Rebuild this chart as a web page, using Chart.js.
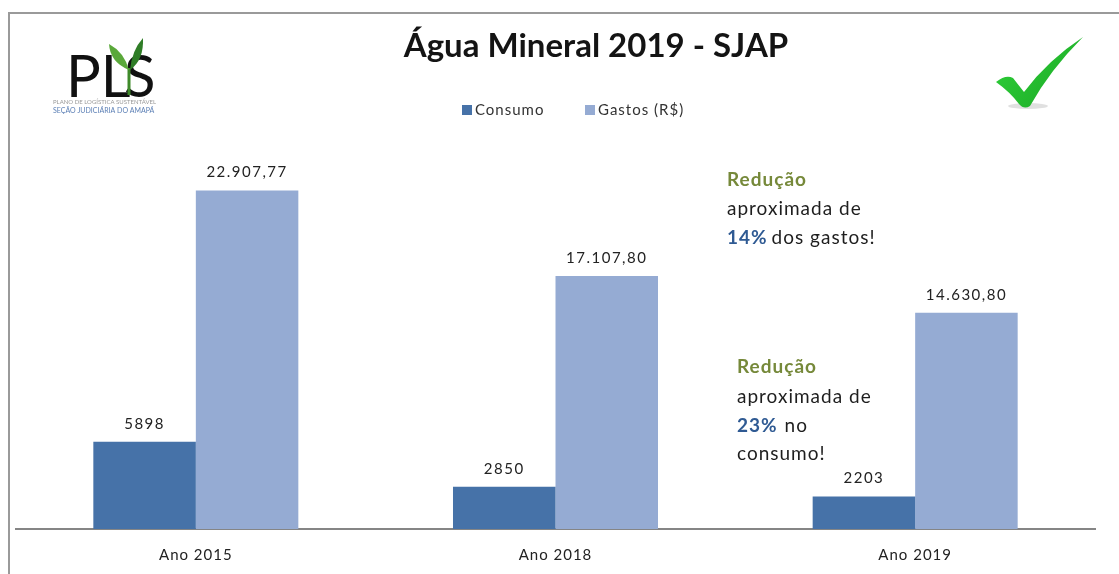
<!DOCTYPE html>
<html>
<head>
<meta charset="utf-8">
<script src="https://cdn.jsdelivr.net/npm/chart.js@4/dist/chart.umd.min.js"></script>
<style>
html,body{margin:0;padding:0;background:#fff;}
canvas{display:block;}
</style>
</head>
<body>
<canvas id="c" width="1119" height="574"></canvas>
<script>
const categories = ['Ano 2015', 'Ano 2018', 'Ano 2019'];
const consumo = [5898, 2850, 2203];
const gastos = [22907.77, 17107.80, 14630.80];
const seriesNames = ['Consumo', 'Gastos (R$)'];
const titleText = 'Água Mineral 2019 - SJAP';
const note1 = ['Redução', 'aproximada de', '14%', 'dos gastos!'];
const note2 = ['Redução', 'aproximada de', '23%', 'no', 'consumo!'];
const seriesColors = ['#4672a8', '#95abd3'];

const FONT = 'Lato, "Open Sans", sans-serif';

function fmtBR(v) {
  const parts = v.toFixed(2).split('.');
  const int = parts[0].replace(/\B(?=(\d{3})+(?!\d))/g, '.');
  return int + ',' + parts[1];
}

const decorPlugin = {
  id: 'decor',
  beforeDraw(chart) {
    const ctx = chart.ctx;
    ctx.save();
    ctx.fillStyle = '#fff';
    ctx.fillRect(0, 0, chart.width, chart.height);
    ctx.strokeStyle = '#9a9a9a';
    ctx.lineWidth = 2;
    ctx.beginPath();
    ctx.moveTo(9, 574);
    ctx.lineTo(9, 13);
    ctx.lineTo(1119, 13);
    ctx.stroke();
    ctx.restore();
    ctx.letterSpacing = '1px';
  },
  afterDraw(chart) {
    const ctx = chart.ctx;
    ctx.save();
    ctx.letterSpacing = '0px';
    // Title
    ctx.fillStyle = '#141414';
    ctx.font = 'bold 33px ' + FONT;
    ctx.textAlign = 'center';
    ctx.textBaseline = 'middle';
    ctx.fillText(titleText, 596, 46);

    // Legend
    ctx.letterSpacing = '1px';
    ctx.font = '15px ' + FONT;
    ctx.textAlign = 'left';
    const legX = [462, 585];
    seriesNames.forEach((n, i) => {
      ctx.fillStyle = seriesColors[i];
      ctx.fillRect(legX[i], 105, 10, 10);
      ctx.fillStyle = '#333';
      ctx.fillText(n, legX[i] + 13, 110);
    });
    ctx.letterSpacing = '0px';

    // Logo PLS
    ctx.fillStyle = '#111';
    ctx.font = '58px ' + FONT;
    ctx.textBaseline = 'alphabetic';
    ctx.textAlign = 'left';
    ctx.fillText('PL', 66, 97);
    ctx.fillText('S', 124, 97);
    ctx.strokeStyle = '#3f8a2a';
    ctx.lineWidth = 3;
    ctx.beginPath();
    ctx.moveTo(129, 68); ctx.lineTo(129, 95); ctx.stroke();
    ctx.fillStyle = '#5aa83a';
    ctx.beginPath();
    ctx.moveTo(129, 70);
    ctx.quadraticCurveTo(110, 62, 109, 44);
    ctx.quadraticCurveTo(124, 52, 129, 70);
    ctx.fill();
    ctx.fillStyle = '#2f7d27';
    ctx.beginPath();
    ctx.moveTo(130, 70);
    ctx.quadraticCurveTo(132, 50, 143, 38);
    ctx.quadraticCurveTo(144, 60, 130, 70);
    ctx.fill();
    ctx.font = '6px ' + FONT;
    ctx.fillStyle = '#999';
    ctx.fillText('PLANO DE LOGÍSTICA SUSTENTÁVEL', 53, 104);
    ctx.fillStyle = '#5b7fb5';
    ctx.font = '7px ' + FONT;
    ctx.fillText('SEÇÃO JUDICIÁRIA DO AMAPÁ', 53, 113);

    // checkmark
    const g = ctx.createLinearGradient(995, 40, 1085, 110);
    g.addColorStop(0, '#2fd13a');
    g.addColorStop(1, '#1aa524');
    ctx.fillStyle = 'rgba(0,0,0,0.12)';
    ctx.beginPath();
    ctx.ellipse(1028, 106, 20, 3, 0, 0, Math.PI * 2);
    ctx.fill();
    ctx.fillStyle = g;
    ctx.beginPath();
    ctx.moveTo(996, 82);
    ctx.quadraticCurveTo(1006, 74, 1013, 78);
    ctx.lineTo(1024, 92);
    ctx.quadraticCurveTo(1048, 60, 1083, 37);
    ctx.quadraticCurveTo(1050, 70, 1030, 106);
    ctx.quadraticCurveTo(1024, 110, 1019, 104);
    ctx.quadraticCurveTo(1010, 92, 996, 82);
    ctx.fill();

    // Notes
    ctx.letterSpacing = '1px';
    ctx.textAlign = 'left';
    ctx.textBaseline = 'middle';
    const green = '#76893a', blue = '#2f5a93', dark = '#1e1e1e';
    ctx.font = 'bold 19px ' + FONT;
    ctx.fillStyle = green;
    ctx.fillText(note1[0], 727, 180);
    ctx.font = '19px ' + FONT;
    ctx.fillStyle = dark;
    ctx.fillText(note1[1], 727, 209);
    ctx.font = 'bold 19px ' + FONT;
    ctx.fillStyle = blue;
    ctx.fillText(note1[2], 727, 238);
    let w = ctx.measureText(note1[2]).width + 4;
    ctx.font = '19px ' + FONT;
    ctx.fillStyle = dark;
    ctx.fillText(note1[3], 727 + w, 238);

    ctx.font = 'bold 19px ' + FONT;
    ctx.fillStyle = green;
    ctx.fillText(note2[0], 737, 367);
    ctx.font = '19px ' + FONT;
    ctx.fillStyle = dark;
    ctx.fillText(note2[1], 737, 397);
    ctx.font = 'bold 19px ' + FONT;
    ctx.fillStyle = blue;
    ctx.fillText(note2[2], 737, 426);
    w = ctx.measureText(note2[2]).width + 7;
    ctx.font = '19px ' + FONT;
    ctx.fillStyle = dark;
    ctx.fillText(note2[3], 737 + w, 426);
    ctx.fillText(note2[4], 737, 454);
    ctx.restore();
  }
};

const labelPlugin = {
  id: 'barLabels',
  afterDatasetsDraw(chart) {
    const ctx = chart.ctx;
    ctx.save();
    ctx.letterSpacing = '1.5px';
    ctx.font = '15px ' + FONT;
    ctx.fillStyle = '#222';
    ctx.textAlign = 'center';
    ctx.textBaseline = 'middle';
    chart.data.datasets.forEach((ds, di) => {
      const meta = chart.getDatasetMeta(di);
      meta.data.forEach((bar, i) => {
        const v = ds.data[i];
        const txt = di === 0 ? String(v) : fmtBR(v);
        ctx.fillText(txt, bar.x, bar.y - 18);
      });
    });
    ctx.restore();
  }
};

new Chart(document.getElementById('c'), {
  type: 'bar',
  data: {
    labels: categories,
    datasets: [
      { label: seriesNames[0], data: consumo, backgroundColor: seriesColors[0], categoryPercentage: 0.57, barPercentage: 1.0 },
      { label: seriesNames[1], data: gastos, backgroundColor: seriesColors[1], categoryPercentage: 0.57, barPercentage: 1.0 }
    ]
  },
  options: {
    responsive: false,
    animation: false,
    devicePixelRatio: 1,
    layout: { padding: { left: 16, right: 24, top: 150, bottom: 5 } },
    scales: {
      x: {
        grid: { display: false, drawTicks: false },
        border: { display: true, color: '#858585', width: 2 },
        ticks: { color: '#222', font: { family: FONT, size: 15 }, padding: 17 },
        afterFit(s) { s.height = 40; }
      },
      y: { display: false, min: 0, max: 25640 }
    },
    plugins: {
      title: { display: false },
      legend: { display: false },
      tooltip: { enabled: false }
    }
  },
  plugins: [decorPlugin, labelPlugin]
});
</script>
</body>
</html>
